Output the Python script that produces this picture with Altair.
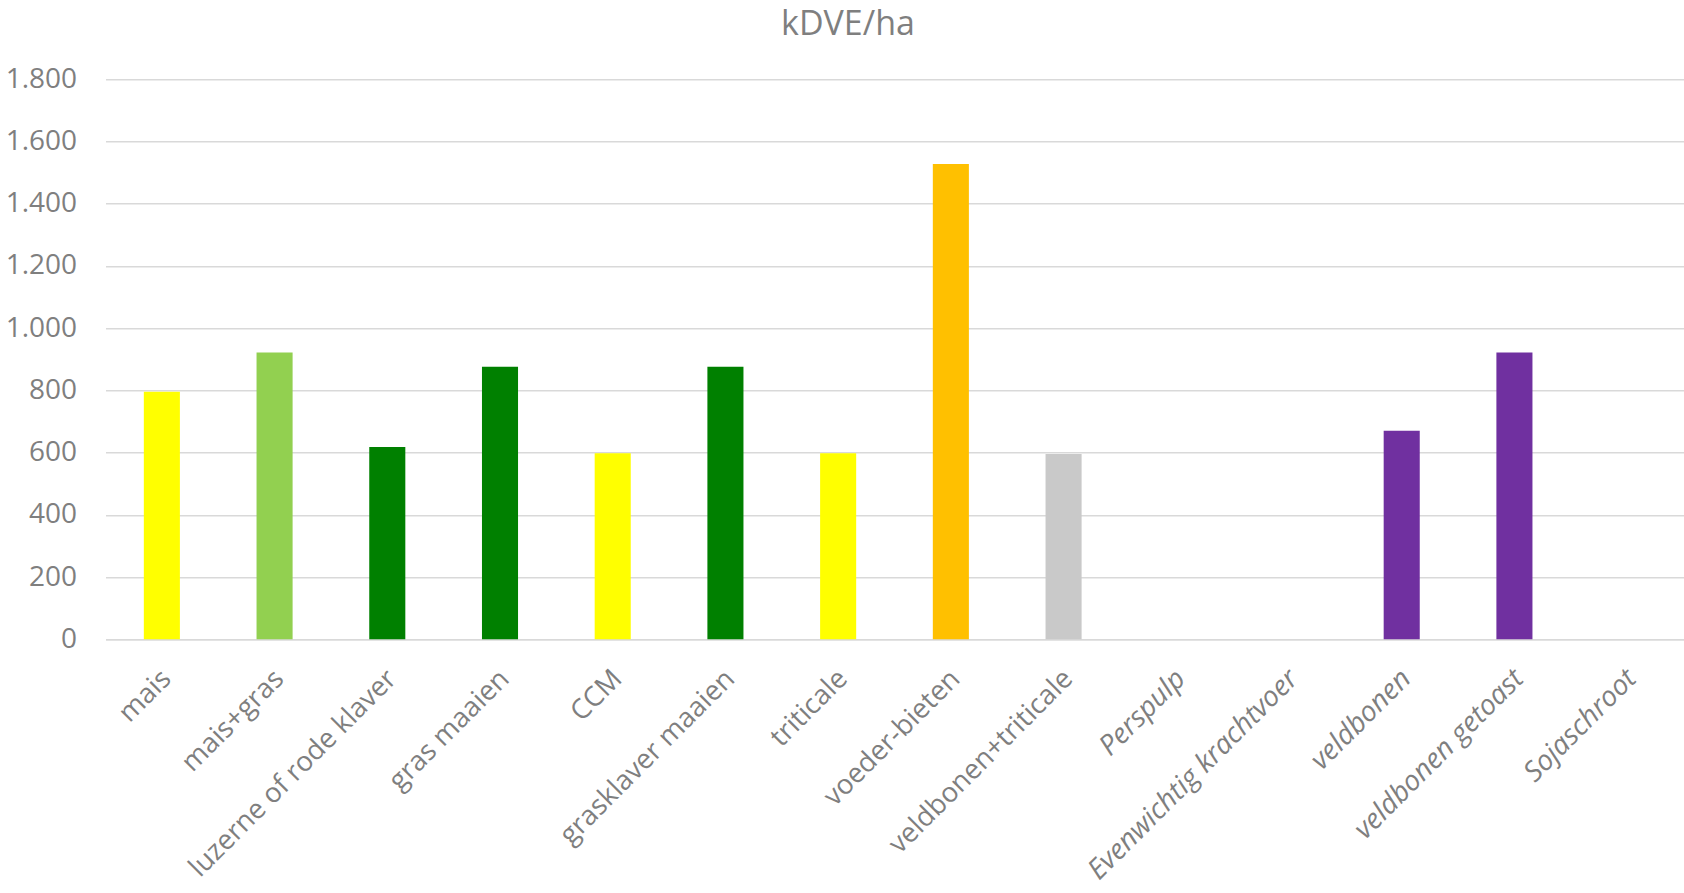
import altair as alt
import pandas as pd

# kDVE per hectare for each feed crop
crops = [
    "mais", "mais+gras", "luzerne of rode klaver", "gras maaien", "CCM",
    "grasklaver maaien", "triticale", "voeder-bieten", "veldbonen+triticale",
    "Perspulp", "Evenwichtig krachtvoer", "veldbonen", "veldbonen getoast",
    "Sojaschroot",
]
kdve_per_ha = [796, 922, 618, 876, 598, 876, 598, 1528, 596, 0, 0, 670, 922, 0]

# bought-in feeds are shown in italics on the axis
purchased = ["Perspulp", "Evenwichtig krachtvoer", "veldbonen",
             "veldbonen getoast", "Sojaschroot"]

bar_colors = [
    "#FFFF00", "#92D050", "#008000", "#008000", "#FFFF00",
    "#008000", "#FFFF00", "#FFC000", "#C9C9C9", "#A5A5A5",
    "#A5A5A5", "#7030A0", "#7030A0", "#7030A0",
]

y_ticks = [0, 200, 400, 600, 800, 1000, 1200, 1400, 1600, 1800]
chart_title = ["kDVE/ha"]

df = pd.DataFrame({"gewas": crops, "kDVE": kdve_per_ha})
title_df = pd.DataFrame({"titel": chart_title})

FONT = "Open Sans"
TEXT = "#7F7F7F"
GRID = "#D9D9D9"
LEFT, TOP = 105.5, 79.3

italic_test = "indexof(" + str(purchased).replace('"', "'") + ", datum.value) >= 0"

bars = (
    alt.Chart(df)
    .mark_bar()
    .encode(
        x=alt.X(
            "gewas:N",
            sort=crops,
            title=None,
            scale=alt.Scale(paddingInner=0.68, paddingOuter=0.34),
            axis=alt.Axis(
                labelAngle=-45,
                labelAlign="right",
                labelBaseline="middle",
                labelFont=FONT,
                labelFontSize={
                    "condition": {"test": italic_test, "value": 28},
                    "value": 27.5,
                },
                labelColor=TEXT,
                labelPadding=35,
                labelOffset=5,
                labelFontStyle={
                    "condition": {"test": italic_test, "value": "italic"},
                    "value": "normal",
                },
                labelOverlap=False,
                labelLimit=0,
                ticks=False,
                domainColor=GRID,
                domainWidth=1.5,
                grid=False,
            ),
        ),
        y=alt.Y(
            "kDVE:Q",
            title=None,
            scale=alt.Scale(domain=[0, 1800], nice=False),
            axis=alt.Axis(
                values=y_ticks,
                labelExpr="replace(format(datum.value, ','), ',', '.')",
                labelFont=FONT,
                labelFontSize=28,
                labelColor=TEXT,
                labelPadding=29,
                ticks=False,
                domain=False,
                gridColor=GRID,
                gridWidth=1.5,
            ),
        ),
        color=alt.Color(
            "gewas:N",
            scale=alt.Scale(domain=crops, range=bar_colors),
            legend=None,
        ),
    )
)

# chart title, centred above the plot
title = (
    alt.Chart(title_df)
    .mark_text(font=FONT, fontSize=34, color=TEXT, align="center",
               baseline="alphabetic")
    .encode(
        x=alt.value(848 - LEFT),
        y=alt.value(35 - TOP),
        text="titel:N",
    )
)

chart = (
    alt.layer(bars, title)
    .properties(
        width=1578,
        height=560,
        autosize=alt.AutoSizeParams(type="none"),
        padding={"left": LEFT, "top": TOP, "right": 0, "bottom": 253},
    )
    .configure_view(stroke=None)
)

chart.save("out.html", embed_options={"renderer": "svg", "actions": False})
